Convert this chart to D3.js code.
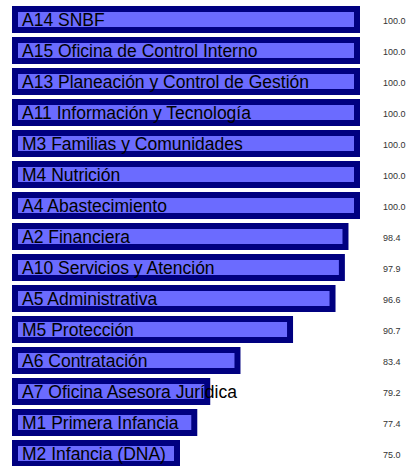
<!DOCTYPE html>
<html>
<head>
<meta charset="utf-8">
<script src="https://cdn.jsdelivr.net/npm/d3@7"></script>
<style>
  body { margin: 0; background: #fff; }
  svg { display: block; }
</style>
</head>
<body>
<div id="chart"></div>
<script>
var svgWidth = 407;
var svgHeight = 466;

// data
var areas = [
  "A14 SNBF",
  "A15 Oficina de Control Interno",
  "A13 Planeación y Control de Gestión",
  "A11 Información y Tecnología",
  "M3 Familias y Comunidades",
  "M4 Nutrición",
  "A4 Abastecimiento",
  "A2 Financiera",
  "A10 Servicios y Atención",
  "A5 Administrativa",
  "M5 Protección",
  "A6 Contratación",
  "A7 Oficina Asesora Jurídica",
  "M1 Primera Infancia",
  "M2 Infancia (DNA)"
];
var scores = [100.0, 100.0, 100.0, 100.0, 100.0, 100.0, 100.0, 98.4, 97.9, 96.6, 90.7, 83.4, 79.2, 77.4, 75.0];

var data = areas.map(function(a, i) { return {area: a, score: scores[i]}; });

var svg = d3.select("#chart").append("svg")
    .attr("width", svgWidth)
    .attr("height", svgHeight);

// x scale does not start at zero in the original
var xScale = d3.scaleLinear()
    .domain([52.5, 100])
    .range([15, 357]);

var yScale = d3.scaleBand()
    .domain(areas)
    .range([0, 465])
    .padding(0);

// bars
svg.append("g").selectAll("rect")
    .data(data)
    .enter()
    .append("rect")
    .attr("x", xScale(52.5))
    .attr("y", d => yScale(d.area) + 9)
    .attr("width", d => xScale(d.score) - xScale(52.5))
    .attr("height", 21)
    .attr("fill", "#6b6bff")
    .attr("stroke", "#000080")
    .attr("stroke-width", 6);

// names on top of bars
svg.append("g").selectAll("text")
    .data(data)
    .enter()
    .append("text")
    .attr("x", 22)
    .attr("y", d => yScale(d.area) + 25.5)
    .style("font-family", "'Liberation Sans', Arial, sans-serif")
    .style("font-size", "17.5px")
    .attr("fill", "#000")
    .text(d => d.area);

// score values on the right
svg.append("g").selectAll("text")
    .data(data)
    .enter()
    .append("text")
    .attr("x", 383)
    .attr("y", d => yScale(d.area) + 24)
    .style("font-family", "'Liberation Sans', Arial, sans-serif")
    .style("font-size", "9px")
    .attr("fill", "#333")
    .text(d => d.score.toFixed(1));
</script>
</body>
</html>
